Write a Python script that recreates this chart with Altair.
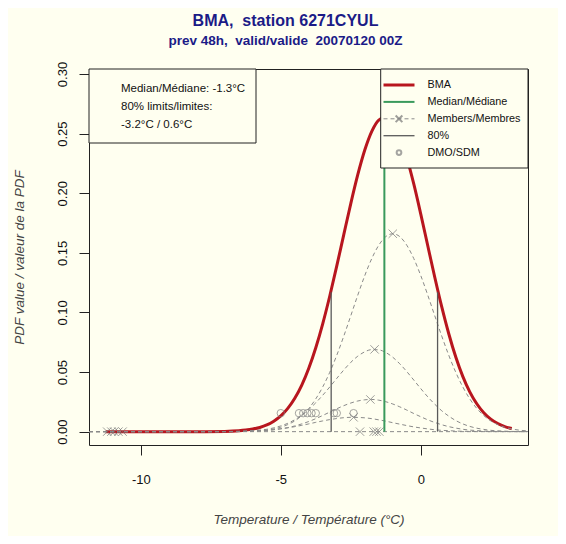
import altair as alt
import pandas as pd

FONT = "Liberation Sans"
BG = "#fffff0"
RED = "#b8161e"
GREEN = "#3a9a5c"
GREY = "#8a8a8a"
NAVY = "#1b1b87"

TITLE = "BMA,\u00a0 station 6271CYUL"
SUBTITLE = "prev 48h,\u00a0 valid/valide\u00a0 20070120 00Z"
X_TITLE = "Temperature / Température (°C)"
Y_TITLE = "PDF value / valeur de la PDF"

# ---- data ----
temp_grid = [-11.85, -11.25, -9.0, -8.0, -7.0, -6.5, -6.25, -6.0, -5.75, -5.5, -5.25,
             -5.0, -4.75, -4.5, -4.25, -4.0, -3.75, -3.5, -3.25, -3.0, -2.75, -2.5,
             -2.25, -2.0, -1.75, -1.5, -1.25, -1.0, -0.75, -0.5, -0.25, 0.0, 0.25,
             0.5, 0.75, 1.0, 1.25, 1.5, 1.75, 2.0, 2.25, 2.5, 2.75, 3.0, 3.25, 3.5, 3.82]
bma_pdf = [0.0, 0.0, 0.0, 0.0, 0.0002, 0.0007, 0.0013, 0.0022, 0.0035, 0.0056, 0.0088,
           0.0132, 0.0195, 0.0280, 0.0391, 0.0532, 0.0704, 0.0907, 0.1138, 0.1390, 0.1653, 0.1913,
           0.2155, 0.2362, 0.2519, 0.2614, 0.2639, 0.2591, 0.2475, 0.2299, 0.2078, 0.1825, 0.1559,
           0.1295, 0.1046, 0.0821, 0.0626, 0.0464, 0.0334, 0.0234, 0.0159, 0.0105, 0.0068, 0.0042,
           0.0026, 0.0015, 0.0007]
member1_pdf = [0.0, 0.0, 0.0, 0.0, 0.0, 0.0001, 0.0002, 0.0004, 0.0008, 0.0013, 0.0023,
               0.0037, 0.0059, 0.0090, 0.0135, 0.0195, 0.0275, 0.0376, 0.0498, 0.0641, 0.0801, 0.0972,
               0.1145, 0.1309, 0.1452, 0.1564, 0.1636, 0.1660, 0.1636, 0.1564, 0.1452, 0.1309, 0.1145,
               0.0972, 0.0801, 0.0641, 0.0498, 0.0376, 0.0275, 0.0195, 0.0135, 0.0090, 0.0059, 0.0037,
               0.0023, 0.0013, 0.0007]
member2_pdf = [0.0, 0.0, 0.0, 0.0, 0.0001, 0.0003, 0.0005, 0.0008, 0.0013, 0.0020, 0.0032,
               0.0048, 0.0070, 0.0100, 0.0138, 0.0186, 0.0242, 0.0306, 0.0375, 0.0447, 0.0517, 0.0581,
               0.0633, 0.0670, 0.0688, 0.0686, 0.0664, 0.0624, 0.0569, 0.0504, 0.0433, 0.0361, 0.0292,
               0.0230, 0.0175, 0.0130, 0.0093, 0.0065, 0.0044, 0.0029, 0.0019, 0.0011, 0.0007, 0.0004,
               0.0002, 0.0001, 0.0001]
member3_pdf = [0.0, 0.0, 0.0, 0.0, 0.0, 0.0001, 0.0002, 0.0004, 0.0007, 0.0010, 0.0016,
               0.0024, 0.0034, 0.0048, 0.0065, 0.0085, 0.0109, 0.0136, 0.0164, 0.0192, 0.0218, 0.0240,
               0.0257, 0.0267, 0.0270, 0.0264, 0.0251, 0.0232, 0.0208, 0.0181, 0.0152, 0.0125, 0.0099,
               0.0077, 0.0058, 0.0042, 0.0030, 0.0020, 0.0013, 0.0009, 0.0005, 0.0003, 0.0002, 0.0001,
               0.0001, 0.0, 0.0]
member4_pdf = [0.0, 0.0, 0.0, 0.0, 0.0001, 0.0002, 0.0004, 0.0006, 0.0008, 0.0012, 0.0017,
               0.0024, 0.0032, 0.0042, 0.0053, 0.0065, 0.0078, 0.0090, 0.0101, 0.0110, 0.0117, 0.0120,
               0.0119, 0.0116, 0.0109, 0.0099, 0.0088, 0.0075, 0.0063, 0.0051, 0.0040, 0.0031, 0.0023,
               0.0016, 0.0011, 0.0008, 0.0005, 0.0003, 0.0002, 0.0001, 0.0001, 0.0, 0.0, 0.0,
               0.0, 0.0, 0.0]
member_means = [-1.0, -1.65, -1.8, -2.4]
member_peaks = [0.166, 0.069, 0.027, 0.012]
zero_member_means = [-11.2, -11.05, -10.95, -10.8, -10.65, -2.17, -1.68, -1.58, -1.48]
dmo_values = [-5.0, -4.35, -4.2, -4.05, -3.9, -3.75, -3.1, -3.0, -2.4]
dmo_level = 0.0155
median_value = -1.3
median_height = 0.264
limit_values = [-3.2, 0.6]
limit_heights = [0.117, 0.117]
bma_range = [-11.25, 3.25]
x_limits = [-11.85, 3.83]
y_limits = [-0.0112, 0.3042]
x_ticks = [-10, -5, 0]
y_ticks = [0.0, 0.05, 0.10, 0.15, 0.20, 0.25, 0.30]
legend_labels = ["BMA", "Median/Médiane", "Members/Membres", "80%", "DMO/SDM"]
info_lines = ["Median/Médiane: -1.3°C", "80% limits/limites:", "-3.2°C / 0.6°C"]

# ---- tables ----
bma_df = pd.DataFrame({"t": temp_grid, "pdf": bma_pdf})
bma_df = bma_df[(bma_df.t >= bma_range[0]) & (bma_df.t <= bma_range[1])]
rows = []
for name, vals in [("m1", member1_pdf), ("m2", member2_pdf), ("m3", member3_pdf), ("m4", member4_pdf)]:
    for t, p in zip(temp_grid, vals):
        rows.append({"t": t, "pdf": p, "member": name})
for t in x_limits:
    rows.append({"t": t, "pdf": 0.0, "member": "m0"})
members_df = pd.DataFrame(rows)
marks_df = pd.DataFrame({"t": member_means + zero_member_means,
                         "pdf": member_peaks + [0.0] * len(zero_member_means)})
dmo_df = pd.DataFrame({"t": dmo_values, "pdf": [dmo_level] * len(dmo_values)})
vlines_df = pd.DataFrame({"t": [median_value] + limit_values,
                          "top": [median_height] + limit_heights,
                          "kind": ["median", "lim", "lim"]})
vlines_df["base"] = 0.0
one = pd.DataFrame({"k": [0]})

XPATH = "M-1,-1L1,1M1,-1L-1,1"

xs = alt.Scale(domain=x_limits, nice=False, zero=False)
ys = alt.Scale(domain=y_limits, nice=False, zero=False)

x_axis = alt.Axis(values=x_ticks, labelExpr="'' + datum.value", title=X_TITLE, grid=False,
                  domain=False, tickSize=10, tickColor="#222", labelFont=FONT, labelFontSize=13,
                  labelColor="#111", labelPadding=18, titleFont=FONT, titleFontSize=13.5,
                  titleFontStyle="italic", titleFontWeight="normal", titleColor="#444",
                  titlePadding=26)
y_axis = alt.Axis(values=y_ticks, format=".2f", title=Y_TITLE, grid=False, domain=False,
                  tickSize=10, tickColor="#222", labelFont=FONT, labelFontSize=13,
                  labelColor="#111", labelAngle=-90, labelAlign="center", labelBaseline="bottom",
                  labelPadding=10, titleFont=FONT, titleFontSize=13.5, titleFontStyle="italic",
                  titleFontWeight="normal", titleColor="#444", titlePadding=30)

X = alt.X("t:Q", scale=xs, axis=x_axis)
Y = alt.Y("pdf:Q", scale=ys, axis=y_axis)

bma_line = alt.Chart(bma_df).mark_line(color=RED, strokeWidth=3, interpolate="monotone", clip=True).encode(x=X, y=Y)
member_lines = alt.Chart(members_df).mark_line(color=GREY, strokeWidth=1, strokeDash=[4, 3],
                                               interpolate="monotone", clip=True).encode(
    x="t:Q", y="pdf:Q", detail="member:N")
median_rule = alt.Chart(vlines_df[vlines_df.kind == "median"]).mark_rule(color=GREEN, strokeWidth=2).encode(
    x="t:Q", y="base:Q", y2="top:Q")
limit_rules = alt.Chart(vlines_df[vlines_df.kind == "lim"]).mark_rule(color="#5a5a5a", strokeWidth=1.3).encode(
    x="t:Q", y="base:Q", y2="top:Q")
member_marks = alt.Chart(marks_df).mark_point(shape=XPATH, filled=False, color="#777", strokeWidth=1,
                                              size=70, clip=True).encode(x="t:Q", y="pdf:Q")
dmo_points = alt.Chart(dmo_df).mark_point(shape="circle", filled=False, color="#808080", strokeWidth=1,
                                          size=55).encode(x="t:Q", y="pdf:Q")

layers = [bma_line, member_lines, median_rule, limit_rules, member_marks, dmo_points]

# ---- legend (top right) ----
lx0, lx1, ly0, ly1 = 291.7, 439, 0, 99
sx0, sx1, tx = 294.5, 325.5, 338.5
ey0, estep = 16, 16.9
layers.append(alt.Chart(one).mark_rect(fill=BG, stroke="#222", strokeWidth=1).encode(
    x=alt.value(lx0), x2=alt.value(lx1), y=alt.value(ly0), y2=alt.value(ly1)))
ey = [ey0 + i * estep for i in range(len(legend_labels))]
layers.append(alt.Chart(one).mark_rule(color=RED, strokeWidth=3).encode(
    x=alt.value(sx0), x2=alt.value(sx1), y=alt.value(ey[0])))
layers.append(alt.Chart(one).mark_rule(color=GREEN, strokeWidth=2).encode(
    x=alt.value(sx0), x2=alt.value(sx1), y=alt.value(ey[1])))
layers.append(alt.Chart(one).mark_rule(color=GREY, strokeWidth=1, strokeDash=[4, 3]).encode(
    x=alt.value(sx0), x2=alt.value(sx1), y=alt.value(ey[2])))
layers.append(alt.Chart(one).mark_point(shape=XPATH, filled=False, color="#777", size=45).encode(
    x=alt.value((sx0 + sx1) / 2), y=alt.value(ey[2])))
layers.append(alt.Chart(one).mark_rule(color="#5a5a5a", strokeWidth=1.3).encode(
    x=alt.value(sx0), x2=alt.value(sx1), y=alt.value(ey[3])))
layers.append(alt.Chart(one).mark_point(shape="circle", filled=False, color="#808080", size=22).encode(
    x=alt.value((sx0 + sx1) / 2), y=alt.value(ey[4])))
for lab, yy in zip(legend_labels, ey):
    layers.append(alt.Chart(one).mark_text(align="left", baseline="middle", font=FONT, fontSize=10.8,
                                           color="#111").encode(
        x=alt.value(tx), y=alt.value(yy), text=alt.value(lab)))

# ---- info box (top left) ----
layers.append(alt.Chart(one).mark_rect(fill=BG, stroke="#222", strokeWidth=1).encode(
    x=alt.value(0), x2=alt.value(167), y=alt.value(0), y2=alt.value(74)))
for i, line in enumerate(info_lines):
    layers.append(alt.Chart(one).mark_text(align="left", baseline="middle", font=FONT, fontSize=11.5,
                                           color="#111").encode(
        x=alt.value(32), y=alt.value(20.3 + i * 18), text=alt.value(line)))

chart = alt.layer(*layers).properties(
    width=439, height=376,
    padding={"left": 81, "top": 61, "right": 30, "bottom": 91},
    autosize=alt.AutoSizeParams(type="none"),
    background=BG,
    title=alt.TitleParams(text=TITLE, subtitle=SUBTITLE, font=FONT, fontSize=16, fontWeight="bold",
                          color=NAVY, subtitleFont=FONT, subtitleFontSize=13.5,
                          subtitleFontWeight="bold", subtitleColor=NAVY, anchor="middle",
                          dx=-23, offset=14, subtitlePadding=5),
).configure_view(stroke="#222", strokeWidth=1, fill=BG)

chart.save("out.html", embed_options={"renderer": "svg", "actions": False})
